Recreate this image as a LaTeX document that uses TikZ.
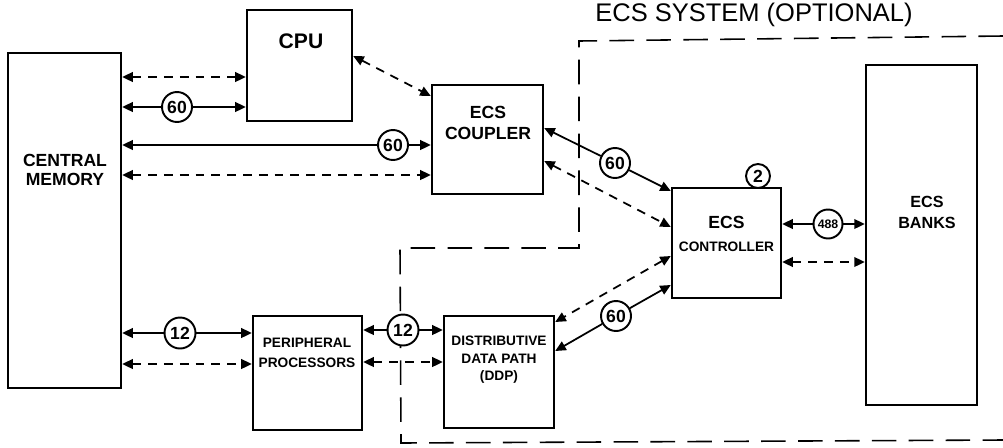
\documentclass[tikz,border=0pt]{standalone}
\usepackage{fontspec}
\setmainfont{Liberation Sans}
\usetikzlibrary{arrows.meta}

\begin{document}
\begin{tikzpicture}[x=0.02cm, y=-0.02cm, >={Triangle[length=6pt,width=5.5pt]},
    unit/.style={draw, line width=1.4pt, inner sep=0pt},
    lbl/.style={font=\bfseries, align=center, inner sep=0pt},
    num/.style={draw, circle, line width=1.1pt, fill=white, minimum size=0.6cm,
      inner sep=0pt, font=\bfseries\fontsize{10}{10}\selectfont},
    link/.style={<->, line width=1pt},
    dlink/.style={link, dash pattern=on 5pt off 4pt},
    border/.style={line width=0.9pt, dash pattern=on 14pt off 7pt}]
  \useasboundingbox (0,0) rectangle (1003,447);

  % ===== ECS system boundary =====
  \draw[border] (1003,36) -- (579,41) -- (579,248) -- (400,248)
    -- (401,443) -- (1003,440);
  \node[inner sep=0pt, font=\fontsize{14.5}{14.5}\selectfont] (title) at (754,15)
    {ECS SYSTEM (OPTIONAL)};

  % ===== Units =====
  \node[unit, minimum width=2.26cm, minimum height=6.70cm] (cm) at (64.5,220.5) {};
  \node[unit, minimum width=2.10cm, minimum height=2.22cm] (cpu) at (299.5,65.5) {};
  \node[unit, minimum width=2.22cm, minimum height=2.18cm] (coupler) at (487.5,139.5) {};
  \node[unit, minimum width=2.18cm, minimum height=2.20cm] (ctrl) at (726.5,243) {};
  \node[unit, minimum width=2.22cm, minimum height=6.80cm] (banks) at (921.5,235) {};
  \node[unit, minimum width=2.18cm, minimum height=2.28cm] (pp) at (307.5,373) {};
  \node[unit, minimum width=2.20cm, minimum height=2.24cm] (ddp) at (499,372) {};

  % Labels
  \node[lbl, font=\bfseries\fontsize{10}{10.5}\selectfont] (cmtext) at (65,170) {CENTRAL\\MEMORY};
  \node[lbl, font=\bfseries\fontsize{12}{12}\selectfont] (cputext) at (301,41) {CPU};
  \node[lbl, font=\bfseries\fontsize{10}{11.5}\selectfont] (couplertext) at (488,123) {ECS\\COUPLER};
  \node[lbl, font=\bfseries\fontsize{7.8}{10}\selectfont] (ctrltext) at (726.5,234)
    {{\fontsize{10}{10}\selectfont ECS}\\[3pt]CONTROLLER};
  \node[lbl, font=\bfseries\fontsize{9.2}{12}\selectfont] (bankstext) at (927,212) {ECS\\BANKS};
  \node[lbl, font=\bfseries\fontsize{7.8}{11.3}\selectfont] (pptext) at (307,353) {PERIPHERAL\\PROCESSORS};
  \node[lbl, font=\bfseries\fontsize{7.8}{10}\selectfont] (ddptext) at (499,360)
    {DISTRIBUTIVE\\DATA PATH\\(DDP)};

  % ===== Channel widths =====
  \node[num] (wcpu) at (177,107) {60};
  \node[num] (wcm) at (393,145) {60};
  \node[num] (wecs) at (615,163) {60};
  \node[num] (wddp) at (616,316) {60};
  \node[num, minimum size=0.58cm, font=\bfseries\fontsize{7}{7}\selectfont] (wbank) at (828,224) {488};
  \node[num, minimum size=0.62cm] (wpp) at (180,333) {12};
  \node[num, minimum size=0.62cm] (wpd) at (403,330) {12};
  \node[num, minimum size=0.48cm] (nctrl) at (758,176) {2};

  % ===== Connections =====
  \draw[dlink] (cm.east |- 0,77) -- (cpu.west |- 0,77);
  \draw[link, <-] (cm.east |- wcpu) -- (wcpu);
  \draw[link, ->] (wcpu) -- (cpu.west |- wcpu);
  \draw[dlink] (cpu.east |- 0,56) -- (coupler.west |- 0,96);
  \draw[link, <-] (cm.east |- wcm) -- (wcm);
  \draw[link, ->] (wcm) -- (coupler.west |- wcm);
  \draw[dlink] (cm.east |- 0,175) -- (coupler.west |- 0,175);

  \draw[link, <-] (coupler.east |- 0,128) -- (wecs);
  \draw[link, ->] (wecs) -- (ctrl.west |- 0,191);
  \draw[dlink] (coupler.east |- 0,161) -- (ctrl.west |- 0,227);
  \draw[dlink] (ctrl.west |- 0,256) -- (ddp.east |- 0,322);
  \draw[link, <-] (ctrl.west |- 0,285) -- (wddp);
  \draw[link, ->] (wddp) -- (ddp.east |- 0,351);

  \draw[link, <-] (ctrl.east |- wbank) -- (wbank);
  \draw[link, ->] (wbank) -- (banks.west |- wbank);
  \draw[dlink] (ctrl.east |- 0,262) -- (banks.west |- 0,262);

  \draw[link, <-] (cm.east |- wpp) -- (wpp);
  \draw[link, ->] (wpp) -- (pp.west |- wpp);
  \draw[dlink] (cm.east |- 0,364) -- (pp.west |- 0,364);
  \draw[link, <-] (pp.east |- wpd) -- (wpd);
  \draw[link, ->] (wpd) -- (ddp.west |- wpd);
  \draw[dlink] (pp.east |- 0,362) -- (ddp.west |- 0,362);
\end{tikzpicture}
\end{document}
